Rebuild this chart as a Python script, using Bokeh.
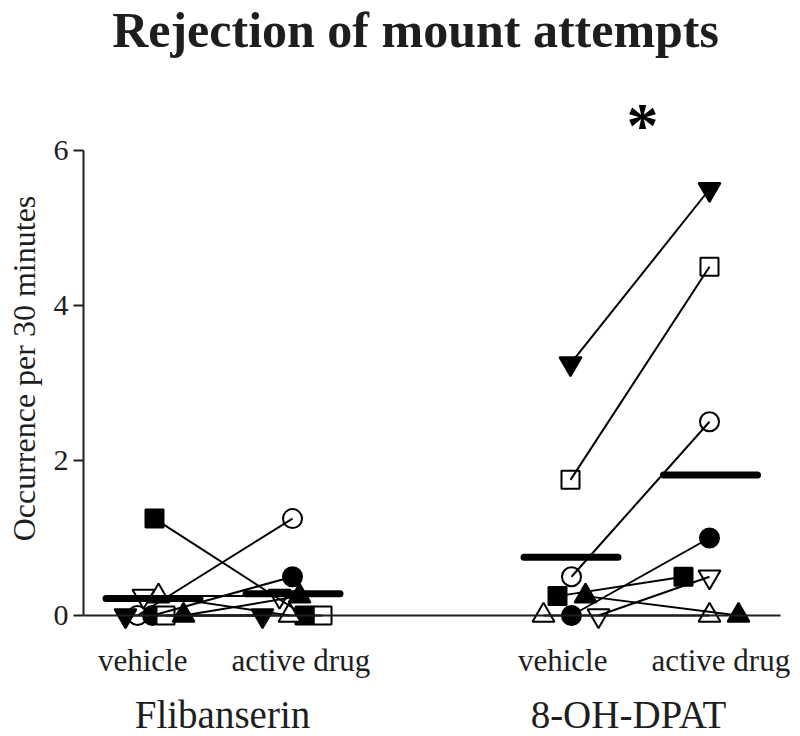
from bokeh.plotting import figure
from bokeh.models import Range1d, FixedTicker, ColumnDataSource
from bokeh.core.properties import value
from bokeh.embed import file_html
from bokeh.resources import INLINE
import numpy as np

# ---------------- data ----------------
drugs = ["Flibanserin", "8-OH-DPAT"]
conditions = ["vehicle", "active drug"]
animals = ["open circle", "filled circle", "open square", "filled square",
           "open triangle up", "filled triangle up", "open triangle down", "filled triangle down"]

flib_vehicle = [0.0, 0.0, 0.0, 1.25, 0.25, 0.0, 0.25, 0.0]
flib_active = [1.25, 0.5, 0.0, 0.0, 0.0, 0.25, 0.25, 0.0]
dpat_vehicle = [0.5, 0.0, 1.75, 0.25, 0.0, 0.25, 0.0, 3.25]
dpat_active = [2.5, 1.0, 4.5, 0.5, 0.0, 0.0, 0.5, 5.5]

significance = ["", "*"]
y_ticks = [0, 2, 4, 6]
title_text = "Rejection of mount attempts"
y_label = "Occurrence per 30 minutes"

values = {
    ("Flibanserin", "vehicle"): flib_vehicle,
    ("Flibanserin", "active drug"): flib_active,
    ("8-OH-DPAT", "vehicle"): dpat_vehicle,
    ("8-OH-DPAT", "active drug"): dpat_active,
}

# ---------------- layout / styling ----------------
FONT = "Liberation Serif"
INK = "#1e1e1e"
# x position of each column (drug, condition)
col_pos = {
    ("Flibanserin", "vehicle"): 1.0,
    ("Flibanserin", "active drug"): 2.0,
    ("8-OH-DPAT", "vehicle"): 4.0,
    ("8-OH-DPAT", "active drug"): 5.0,
}
U = 140.0  # px per x unit
marker_shapes = ["circle", "circle", "square", "square",
                 "triangle", "triangle", "inverted_triangle", "inverted_triangle"]
marker_fills = ["white", "black", "white", "black", "white", "black", "white", "black"]
marker_sizes = [19, 19, 18, 18, 22, 22, 22, 22]

# horizontal jitter (px) of each animal around each column centre
jit = {
    ("Flibanserin", "vehicle"): [-15, 0, 13, 2, 6, 31, -9, -27],
    ("Flibanserin", "active drug"): [0, 0, 30, 12, -3, 7, -13, -30],
    ("8-OH-DPAT", "vehicle"): [-1, -1, -2, -15, -29, 13, 26, -2],
    ("8-OH-DPAT", "active drug"): [-3, -3, -3, -29, -3, 26, -3, -3],
}
bar_shift = {
    ("Flibanserin", "vehicle"): 0.5,
    ("Flibanserin", "active drug"): 0.5,
    ("8-OH-DPAT", "vehicle"): -1.5,
    ("8-OH-DPAT", "active drug"): -2.0,
}
BAR_HALF = 47.0
label_shift = {"vehicle": -0.07, "active drug": 0.06}
group_shift = {"Flibanserin": 0.0, "8-OH-DPAT": -0.1}

X_START, X_END = 0.5071, 5.6286
Y_START, Y_END = -1.5613, 7.9355

p = figure(
    width=800, height=736, title=None,
    x_range=Range1d(X_START, X_END),
    y_range=Range1d(Y_START, Y_END),
    output_backend="svg", toolbar_location=None,
    min_border_left=83, min_border_right=0, min_border_top=0, min_border_bottom=0,
)
p.outline_line_color = None
p.grid.visible = False
p.background_fill_color = "white"
p.border_fill_color = "white"

# y axis
ya = p.yaxis[0]
ya.ticker = FixedTicker(ticks=y_ticks)
ya.bounds = (0, 6)
ya.axis_line_width = 2
ya.axis_line_color = INK
ya.major_tick_line_width = 2
ya.major_tick_line_color = INK
ya.major_tick_out = 10
ya.major_tick_in = 0
ya.minor_tick_line_color = None
ya.major_label_standoff = 5
ya.major_label_text_font = FONT
ya.major_label_text_font_size = "30px"
ya.major_label_text_color = INK
ya.axis_label = y_label
ya.axis_label_text_font = FONT
ya.axis_label_text_font_size = "32px"
ya.axis_label_text_font_style = "normal"
ya.axis_label_text_color = INK
ya.axis_label_standoff = 9

# x axis: a bare base line at y = 0
xa = p.xaxis[0]
xa.fixed_location = 0
xa.ticker = FixedTicker(ticks=[])
xa.bounds = (X_START, (780 - 12) / U)
xa.axis_line_width = 2
xa.axis_line_color = INK
xa.major_tick_out = 0
xa.major_tick_in = 0
xa.minor_tick_out = 0
xa.minor_tick_in = 0
xa.major_label_standoff = 0

# markers
for key, vals in values.items():
    offs = jit[key]
    for i in range(len(animals)):
        p.scatter(x=[col_pos[key] + offs[i] / U], y=[vals[i]],
                  marker=marker_shapes[i], size=marker_sizes[i],
                  fill_color=marker_fills[i], line_color="black", line_width=2)

# connecting lines per animal
for d in drugs:
    kv, ka = (d, "vehicle"), (d, "active drug")
    src = ColumnDataSource(dict(
        x0=[col_pos[kv] + o / U for o in jit[kv]],
        y0=values[kv],
        x1=[col_pos[ka] + o / U for o in jit[ka]],
        y1=values[ka],
    ))
    p.segment(x0="x0", y0="y0", x1="x1", y1="y1", source=src,
              line_color="black", line_width=2)

# mean bars
bx0, bx1, by = [], [], []
for key, vals in values.items():
    c = col_pos[key] + bar_shift[key] / U
    bx0.append(c - BAR_HALF / U)
    bx1.append(c + BAR_HALF / U)
    by.append(float(np.mean(vals)))
p.segment(x0=bx0, y0=by, x1=bx1, y1=by, line_color="black", line_width=7, line_cap="round")

# condition labels under each column
lab_x, lab_t = [], []
for key in values:
    lab_x.append(col_pos[key] + label_shift[key[1]])
    lab_t.append(key[1])
p.text(x=lab_x, y=[-0.58] * len(lab_x), text=lab_t,
       text_font=value(FONT), text_font_size="31px", text_color=INK,
       text_align="center", text_baseline="middle")

# drug (group) labels
g_x = [(col_pos[(d, "vehicle")] + col_pos[(d, "active drug")]) / 2 + group_shift[d] for d in drugs]
p.text(x=g_x, y=[-1.275] * len(drugs), text=drugs,
       text_font=value(FONT), text_font_size="39px", text_color=INK,
       text_align="center", text_baseline="middle")

# significance marks centred over each drug
sx = [g for g, s in zip([(col_pos[(d, "vehicle")] + col_pos[(d, "active drug")]) / 2 for d in drugs], significance) if s]
st = [s for s in significance if s]
p.text(x=sx, y=[6.32] * len(sx), text=st,
       text_font=value(FONT), text_font_size="64px", text_font_style="bold",
       text_align="center", text_baseline="middle", text_color="black")

# title
p.text(x=[2.879], y=[7.555], text=[title_text],
       text_font=value(FONT), text_font_size="50px", text_font_style="bold",
       text_align="center", text_baseline="middle", text_color=INK)

open("out.html", "w").write(file_html(p, INLINE))
